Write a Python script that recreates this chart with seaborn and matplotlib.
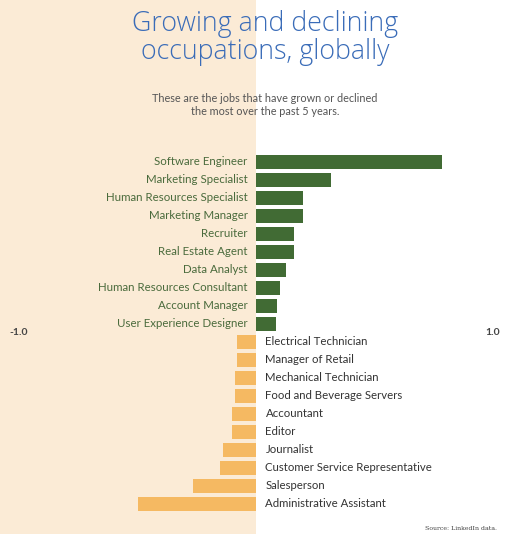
import pandas as pd
import matplotlib.pyplot as plt
import seaborn as sns
from matplotlib.patches import Rectangle

# Dados (variação, -1 a 1)
ocupacoes = ['Software Engineer', 'Marketing Specialist', 'Human Resources Specialist',
             'Marketing Manager', 'Recruiter', 'Real Estate Agent', 'Data Analyst',
             'Human Resources Consultant', 'Account Manager', 'User Experience Designer',
             'Electrical Technician', 'Manager of Retail', 'Mechanical Technician',
             'Food and Beverage Servers', 'Accountant', 'Editor', 'Journalist',
             'Customer Service Representative', 'Salesperson', 'Administrative Assistant']
variacao = [0.785, 0.316, 0.20, 0.20, 0.16, 0.16, 0.125, 0.10, 0.089, 0.086,
            -0.081, -0.081, -0.087, -0.087, -0.10, -0.10, -0.14, -0.15, -0.265, -0.50]
ticks_x = [-1.0, 1.0]

df = pd.DataFrame({'Ocupacao': ocupacoes, 'Variacao': variacao})
df['Sinal'] = ['cresce' if v > 0 else 'cai' for v in variacao]

sns.set_theme(style='white')
plt.rcParams['font.family'] = ['Lato', 'DejaVu Sans']

verde = '#416b34'
laranja = '#f5b962'
bege = '#fbebd6'

fig = plt.figure(figsize=(5.3, 5.34), dpi=100)
fig.patch.set_facecolor('white')
fig.patches.append(Rectangle((0, 0), 256 / 530, 1, transform=fig.transFigure,
                             facecolor=bege, edgecolor='none', zorder=-10))

ax = fig.add_axes([0, 1 - 513 / 534, 1, 360 / 534])
ax.set_zorder(5)
ax.patch.set_alpha(0)
sns.barplot(data=df, x='Variacao', y='Ocupacao', hue='Sinal',
            palette={'cresce': verde, 'cai': laranja}, dodge=False,
            width=0.78, legend=False, ax=ax, saturation=1, linewidth=0)

ax.set_xlim(-256 / 237, 274 / 237)
ax.set_ylim(len(ocupacoes) - 0.5, -0.5)
ax.set_xlabel('')
ax.set_ylabel('')
ax.set_xticks([])
ax.set_yticks([])
for s in ax.spines.values():
    s.set_visible(False)

# Rótulos das ocupações
for i, (nome, v) in enumerate(zip(ocupacoes, variacao)):
    if v > 0:
        ax.text(-0.035, i, nome, ha='right', va='center', fontsize=8.3, color='#4a6b3c')
    else:
        ax.text(0.04, i, nome, ha='left', va='center', fontsize=8.2, color='#333333')

for t in ticks_x:
    ax.text(t, 9.5, f'{t:.1f}', ha='center', va='center', fontsize=7.5,
            fontweight='bold', color='#444444')

fig.text(0.5, 0.982, 'Growing and declining\noccupations, globally', ha='center', va='top',
         fontsize=19.3, color='#3a6cb8', fontweight='light', linespacing=1.0,
         family=['Open Sans', 'DejaVu Sans'])
fig.text(0.5, 0.826, 'These are the jobs that have grown or declined\nthe most over the past 5 years.',
         ha='center', va='top', fontsize=7.8, color='#555555', linespacing=1.25)
fig.text(497 / 530, 1 - 528 / 534, 'Source: LinkedIn data.', ha='right', va='center',
         fontsize=4.5, color='#444444', family='DejaVu Serif')

fig.savefig('out.png', dpi=100)
